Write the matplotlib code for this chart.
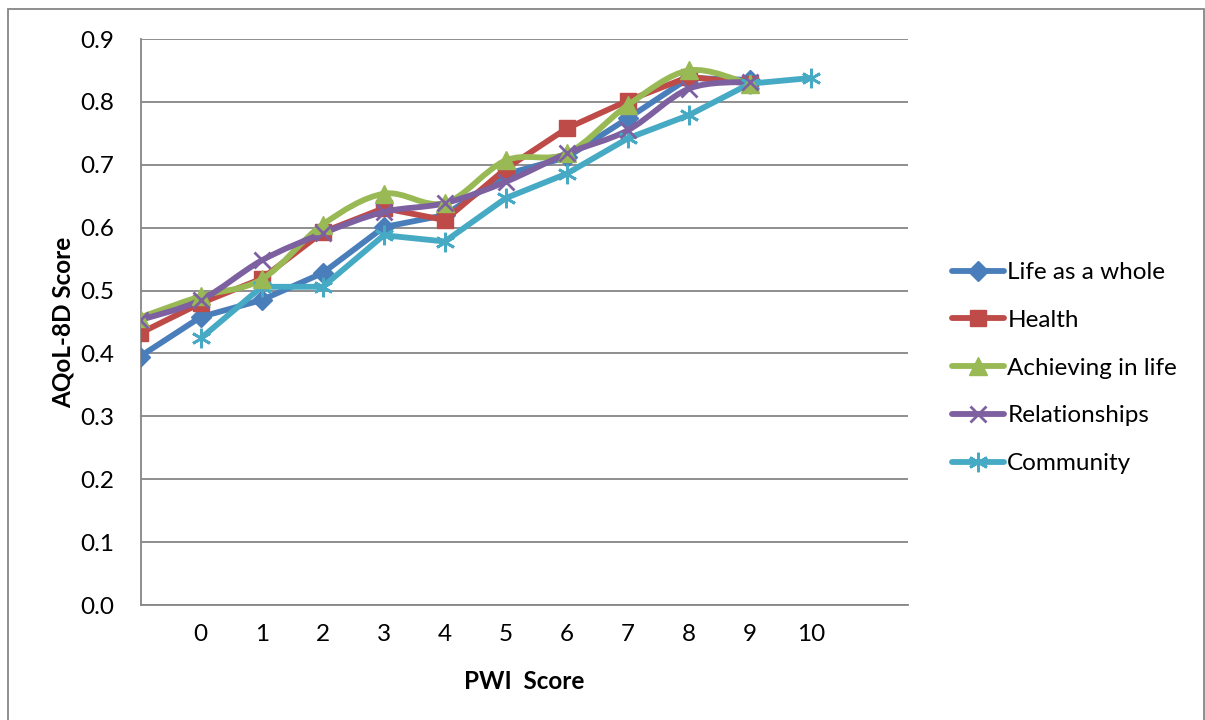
import numpy as np
import matplotlib
matplotlib.use("Agg")
import matplotlib.pyplot as plt
from matplotlib.path import Path
from matplotlib.patches import PathPatch, Rectangle
from matplotlib.lines import Line2D

plt.rcParams['font.family'] = ['Lato', 'DejaVu Sans']

# x positions (first point of four series has no label, plotted left of "0")
x_main = [-1, 0, 1, 2, 3, 4, 5, 6, 7, 8, 9]
x_comm = [0, 1, 2, 3, 4, 5, 6, 7, 8, 9, 10]
tick_pos = [0, 1, 2, 3, 4, 5, 6, 7, 8, 9, 10]
tick_labels = ['0', '1', '2', '3', '4', '5', '6', '7', '8', '9', '10']

life = [0.395, 0.458, 0.485, 0.528, 0.601, 0.620, 0.685, 0.712, 0.774, 0.838, 0.835]
health = [0.432, 0.480, 0.519, 0.593, 0.631, 0.612, 0.694, 0.758, 0.802, 0.840, 0.829]
achieving = [0.457, 0.491, 0.518, 0.605, 0.654, 0.639, 0.707, 0.718, 0.795, 0.850, 0.828]
relationships = [0.453, 0.485, 0.548, 0.591, 0.625, 0.639, 0.673, 0.718, 0.755, 0.821, 0.832]
community = [0.424, 0.506, 0.506, 0.588, 0.578, 0.647, 0.686, 0.742, 0.779, 0.829, 0.838]

# (label, x, y, colour, marker, markersize, smooth)
series = [
    ('Life as a whole', x_main, life, '#4A7EBB', 'D', 10.5, False),
    ('Health', x_main, health, '#BE4B48', 's', 11.5, False),
    ('Achieving in life', x_main, achieving, '#98B954', '^', 12.5, True),
    ('Relationships', x_main, relationships, '#7D60A0', 'x', 12, True),
    ('Community', x_comm, community, '#46AAC5', (6, 2, 0), 14, False),
]


def smooth_path(xs, ys):
    # cubic bezier through the points, like excel's smoothed line
    pts = np.column_stack([xs, ys])
    verts = [pts[0]]
    codes = [Path.MOVETO]
    n = len(pts)
    for i in range(n - 1):
        p0 = pts[i - 1] if i > 0 else pts[i]
        p1 = pts[i]
        p2 = pts[i + 1]
        p3 = pts[i + 2] if i + 2 < n else pts[i + 1]
        c1 = p1 + (p2 - p0) / 6.0
        c2 = p2 - (p3 - p1) / 6.0
        verts += [c1, c2, p2]
        codes += [Path.CURVE4] * 3
    return Path(verts, codes)


fig = plt.figure(figsize=(12.05, 7.2), dpi=100)
ax = fig.add_axes([141 / 1205, 1 - 605 / 720, (908 - 141) / 1205, (605 - 39) / 720])

handles = []
for name, xs, ys, col, mk, ms, smooth in series:
    mew = 2.0 if mk in ('x',) or isinstance(mk, tuple) else 1.0
    if smooth:
        ax.add_patch(PathPatch(smooth_path(xs, ys), facecolor='none', edgecolor=col,
                               lw=4.2, capstyle='round', joinstyle='round', zorder=3))
        ax.plot(xs, ys, ls='none', marker=mk, ms=ms, color=col, mew=mew, zorder=4)
    else:
        ax.plot(xs, ys, color=col, lw=4.2, marker=mk, ms=ms, mew=mew,
                solid_capstyle='round', solid_joinstyle='round', zorder=3)
    handles.append(Line2D([], [], color=col, lw=4.2, marker=mk, ms=ms, mew=mew,
                          solid_capstyle='round'))

ax.set_xlim(-0.98, 11.59)
ax.set_ylim(0, 0.9)
ax.set_yticks(np.arange(0, 0.91, 0.1))
ax.set_yticklabels(['%.1f' % v for v in np.arange(0, 0.91, 0.1)])
ax.set_xticks(tick_pos)
ax.set_xticklabels(tick_labels)
ax.tick_params(length=0, labelsize=17.5, colors='black')
ax.tick_params(axis='y', pad=19)
ax.tick_params(axis='x', pad=14)
ax.yaxis.grid(True, color='#868686', lw=1.3)
ax.set_axisbelow(True)
for s in ['top', 'right']:
    ax.spines[s].set_visible(False)
for s in ['left', 'bottom']:
    ax.spines[s].set_color('#868686')
    ax.spines[s].set_linewidth(1.3)

ax.set_ylabel('AQoL-8D Score', fontsize=17.5, fontweight='bold', labelpad=4)
ax.set_xlabel('PWI  Score', fontsize=17.5, fontweight='bold', labelpad=18)

fig.legend(handles, [s[0] for s in series], loc='center left',
           bbox_to_anchor=(940 / 1205, 1 - 368 / 720), frameon=False,
           fontsize=17.5, handlelength=2.15, handletextpad=0.12, labelspacing=1.1,
           borderpad=0)

fig.patches.append(Rectangle((8 / 1205, -0.01), (1204 - 8) / 1205, 1.01 - 9 / 720,
                             transform=fig.transFigure, fill=False,
                             edgecolor='#868686', lw=1.3))

fig.savefig('out.png', dpi=100)
